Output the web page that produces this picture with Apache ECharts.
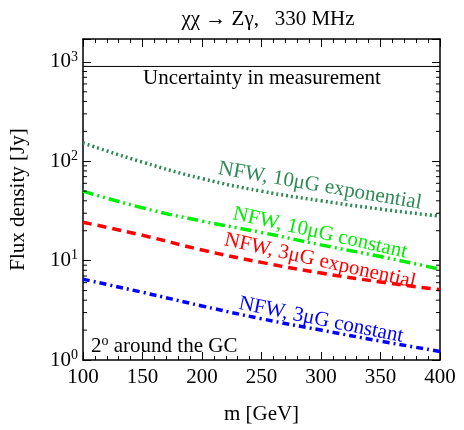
<!DOCTYPE html>
<html>
<head>
<meta charset="utf-8">
<script src="https://cdn.jsdelivr.net/npm/echarts@6/dist/echarts.min.js"></script>
<style>
  html, body { margin: 0; padding: 0; background: #fff; }
  #chart { width: 464px; height: 430px; }
</style>
</head>
<body>
<div id="chart"></div>
<script>
// Dark-matter mass grid (GeV)
const masses = [100, 150, 200, 250, 300, 350, 400];
// Predicted flux density (Jy) for each halo / magnetic-field model
const nfw10Exp = [153, 98, 67, 50, 40, 33, 28];
const nfw10Const = [50, 34, 25, 19.2, 14.4, 11, 8.2];
const nfw3Exp = [24.3, 18, 12.8, 9.6, 7.5, 6.1, 5.1];
const nfw3Const = [6.5, 4.8, 3.5, 2.6, 2.0, 1.55, 1.22];
// Measurement uncertainty level (Jy)
const uncertainty = 900;
// Log-axis minor ticks
const minorTicks = [2,3,4,5,6,7,8,9,20,30,40,50,60,70,80,90,200,300,400,500,600,700,800,900];

const serif = "'Liberation Serif', 'Times New Roman', serif";
const FS = 21;
const pair = (xs, ys) => xs.map((x, i) => [x, ys[i]]);

const chart = echarts.init(document.getElementById('chart'));

const yLabel = {
  fontFamily: serif, fontSize: FS, color: '#000', margin: 5,
  formatter: v => {
    const e = Math.log10(v);
    if (Math.abs(e - Math.round(e)) > 1e-6) return '';
    return '{b|10}{s|' + Math.round(e) + '}';
  },
  rich: {
    b: { fontFamily: serif, fontSize: FS, color: '#000' },
    s: { fontFamily: serif, fontSize: 14, color: '#000', verticalAlign: 'bottom', padding: [0, 0, 10, 0] }
  }
};

function curve(name, data, color, dash) {
  return {
    name, type: 'line', data: pair(masses, data), smooth: 0.5, symbol: 'none',
    lineStyle: { color, width: 3.5, type: dash }, z: 3
  };
}

function label(text, x, y, rot, color) {
  return {
    type: 'text', x, y, rotation: -rot,
    style: { text, font: FS + 'px ' + serif, fill: color, align: 'center', verticalAlign: 'middle' }
  };
}

chart.setOption({
  animation: false,
  backgroundColor: '#fff',
  grid: { left: 83, right: 24, top: 39, bottom: 62 },
  title: {
    text: 'χχ → Zγ,   330 MHz', left: 263, top: 4, textAlign: 'center',
    textStyle: { fontFamily: serif, fontSize: FS, fontWeight: 'normal', color: '#000' }
  },
  xAxis: [{
    type: 'value', min: 100, max: 400, interval: 50,
    name: 'm [GeV]', nameLocation: 'middle', nameGap: 44,
    nameTextStyle: { fontFamily: serif, fontSize: FS, color: '#000' },
    axisLine: { lineStyle: { color: '#000', width: 1.5 } },
    axisTick: { inside: true, length: 8, lineStyle: { color: '#000' } },
    minorTick: { show: true, splitNumber: 5, length: 4, lineStyle: { color: '#000' } },
    axisLabel: { fontFamily: serif, fontSize: FS, color: '#000', margin: 7 },
    splitLine: { show: false }
  }, {
    type: 'value', min: 100, max: 400, interval: 50, position: 'top',
    axisLine: { lineStyle: { color: '#000', width: 1.5 } },
    axisTick: { inside: true, length: 8, lineStyle: { color: '#000' } },
    minorTick: { show: true, splitNumber: 5, length: 4, lineStyle: { color: '#000' } },
    axisLabel: { show: false }, splitLine: { show: false }
  }],
  yAxis: [{
    type: 'log', logBase: 10, min: 1, max: 1700,
    name: 'Flux density [Jy]', nameLocation: 'middle', nameGap: 54,
    nameTextStyle: { fontFamily: serif, fontSize: FS, color: '#000' },
    axisLine: { show: true, lineStyle: { color: '#000', width: 1.5 } },
    axisTick: { inside: true, length: 8, lineStyle: { color: '#000' } },
    axisLabel: yLabel, splitLine: { show: false }
  }, {
    type: 'log', logBase: 10, min: 1, max: 1700, position: 'right',
    axisLine: { show: true, lineStyle: { color: '#000', width: 1.5 } },
    axisTick: { inside: true, length: 8, lineStyle: { color: '#000' } },
    axisLabel: { show: false }, splitLine: { show: false }
  }],
  series: [
    {
      name: 'minor', type: 'custom', silent: true, z: 4,
      data: minorTicks.map(v => [100, v]),
      encode: { x: 0, y: 1 },
      renderItem: (params, api) => {
        const v = api.value(1);
        const l = api.coord([100, v]);
        const r = api.coord([400, v]);
        const st = { stroke: '#000', lineWidth: 1 };
        return {
          type: 'group', children: [
            { type: 'line', shape: { x1: l[0], y1: l[1], x2: l[0] + 4, y2: l[1] }, style: st },
            { type: 'line', shape: { x1: r[0], y1: r[1], x2: r[0] - 4, y2: r[1] }, style: st }
          ]
        };
      }
    },
    {
      name: 'Uncertainty', type: 'line', data: [[100, uncertainty], [400, uncertainty]],
      symbol: 'none', lineStyle: { color: '#000', width: 1 }, z: 2
    },
    curve('NFW, 10μG exponential', nfw10Exp, '#2e8b57', [2, 3]),
    curve('NFW, 10μG constant', nfw10Const, '#00ee00', [11, 4, 2, 4, 2, 4]),
    curve('NFW, 3μG exponential', nfw3Exp, '#ff0000', [9, 6]),
    curve('NFW, 3μG constant', nfw3Const, '#0000ff', [7, 4, 2, 4])
  ],
  graphic: [
    { type: 'text', x: 262, y: 78, style: { text: 'Uncertainty in measurement', font: FS + 'px ' + serif, fill: '#000', align: 'center', verticalAlign: 'middle' } },
    label('NFW, 10μG exponential', 320, 186, 0.17, '#2e8b57'),
    label('NFW, 10μG constant', 320, 233, 0.22, '#00ee00'),
    label('NFW, 3μG exponential', 320, 261, 0.22, '#ff0000'),
    label('NFW, 3μG constant', 321, 320, 0.2, '#0000ff'),
    { type: 'text', x: 91, y: 334, style: { rich: { b: { font: FS + 'px ' + serif, fill: '#000' }, s: { font: '14px ' + serif, fill: '#000', verticalAlign: 'bottom', padding: [0, 0, 10, 0] } }, text: '{b|2}{s|o}{b| around the GC}' } }
  ]
});
</script>
</body>
</html>
